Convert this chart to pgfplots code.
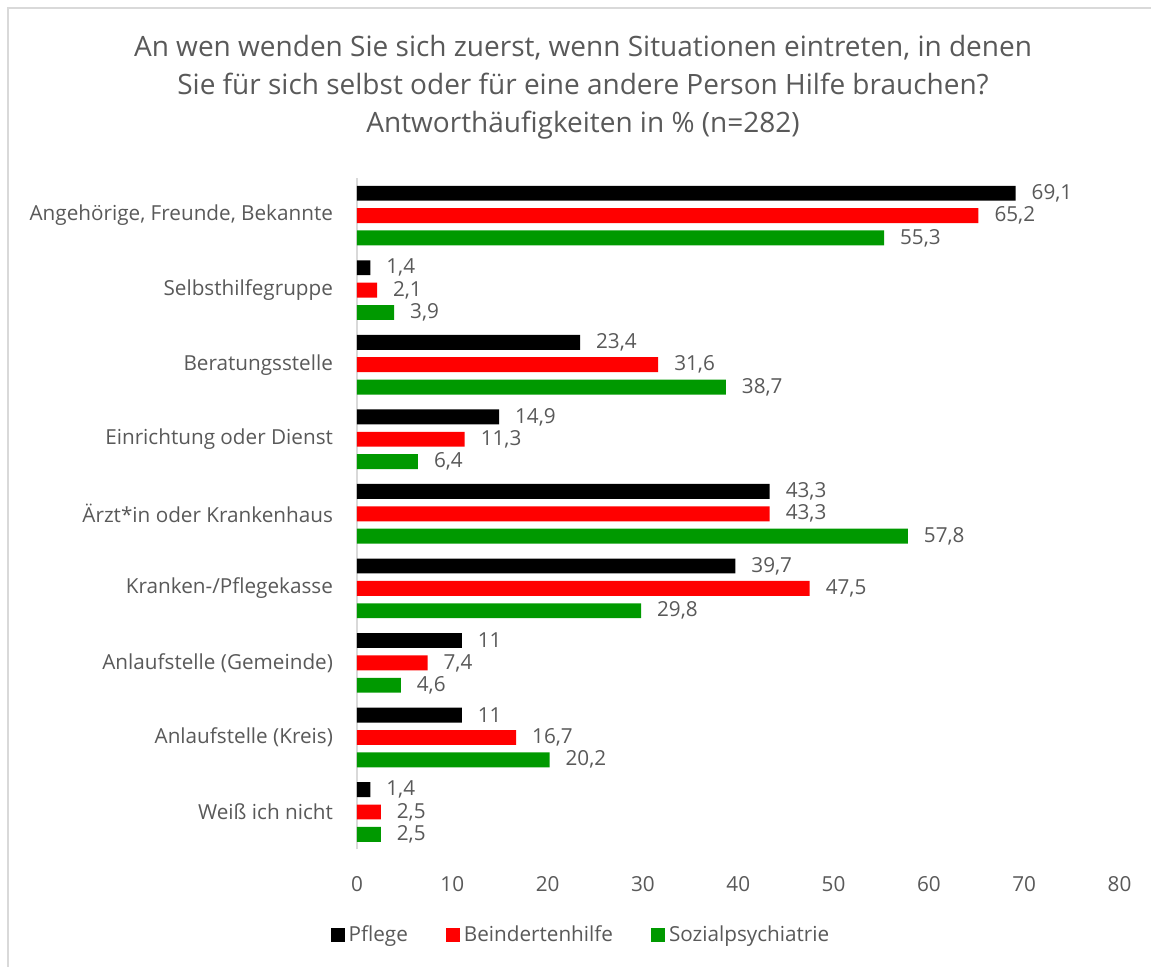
\documentclass[border=0pt]{standalone}
\usepackage{pgfplots}
\pgfplotsset{compat=1.18}
\usepackage{fontspec}
\setmainfont{Open Sans}
\definecolor{txt}{HTML}{595959}
\definecolor{cred}{HTML}{FF0000}
\definecolor{cgreen}{HTML}{009900}
\definecolor{bord}{HTML}{D9D9D9}
\pgfplotstableread{
y pf be so
8 69.1 65.2 55.3
7 1.4 2.1 3.9
6 23.4 31.6 38.7
5 14.9 11.3 6.4
4 43.3 43.3 57.8
3 39.7 47.5 29.8
2 11 7.4 4.6
1 11 16.7 20.2
0 1.4 2.5 2.5
}\data
\begin{document}
\begin{tikzpicture}
\useasboundingbox (-178.5pt,-58.85pt) rectangle (397pt,424.65pt);
\draw[bord, line width=1pt] (-174.5pt,-70pt) -- (-174.5pt,420.65pt) -- (410pt,420.65pt);
\begin{axis}[
  at={(0pt,0pt)}, anchor=south west,
  scale only axis, width=381.25pt, height=335.5pt,
  xmin=0, xmax=80, ymin=-0.5, ymax=8.5,
  xtick={0,10,...,80},
  ytick={0,...,8},
  yticklabels={Weiß ich nicht,Anlaufstelle (Kreis),Anlaufstelle (Gemeinde),Kranken-/Pflegekasse,Ärzt*in oder Krankenhaus,Einrichtung oder Dienst,Beratungsstelle,Selbsthilfegruppe,{Angehörige, Freunde, Bekannte}},
  major tick length=0pt,
  axis x line*=bottom, axis y line*=left,
  x axis line style={draw=none},
  y axis line style={draw=bord, line width=1pt, -},
  /pgf/number format/assume math mode=true,
  /pgf/number format/use comma,
  tick label style={font=\fontsize{10.35}{12}\selectfont, text=txt},
  xticklabel style={yshift=-10pt},
  yticklabel style={xshift=-8.5pt},
  xbar, bar width=0.2,
  nodes near coords,
  nodes near coords style={font=\fontsize{10.35}{12}\selectfont, text=txt, xshift=4.5pt},
  every axis plot/.append style={draw=none},
  legend style={at={(0.295,-0.128)}, anchor=center, draw=none, legend columns=3,
    font=\fontsize{10.35}{12}\selectfont, text=txt,
    /tikz/every even column/.append style={column sep=17pt}},
  legend image code/.code={\fill[#1] (0pt,-3.5pt) rectangle (7pt,3.5pt);},
]
\addplot[fill=black, bar shift=0.3] table[x=pf, y=y] {\data};
\addplot[fill=cred, bar shift=0] table[x=be, y=y] {\data};
\addplot[fill=cgreen, bar shift=-0.3] table[x=so, y=y] {\data};
\legend{Pflege,Beindertenhilfe,Sozialpsychiatrie}
\end{axis}
\node[align=center, text=txt, font=\fontsize{14}{19}\selectfont] at (113pt,381.15pt)
  {An wen wenden Sie sich zuerst, wenn Situationen eintreten, in denen\\
   Sie für sich selbst oder für eine andere Person Hilfe brauchen?\\
   Antworthäufigkeiten in \% (n=282)};
\end{tikzpicture}
\end{document}
